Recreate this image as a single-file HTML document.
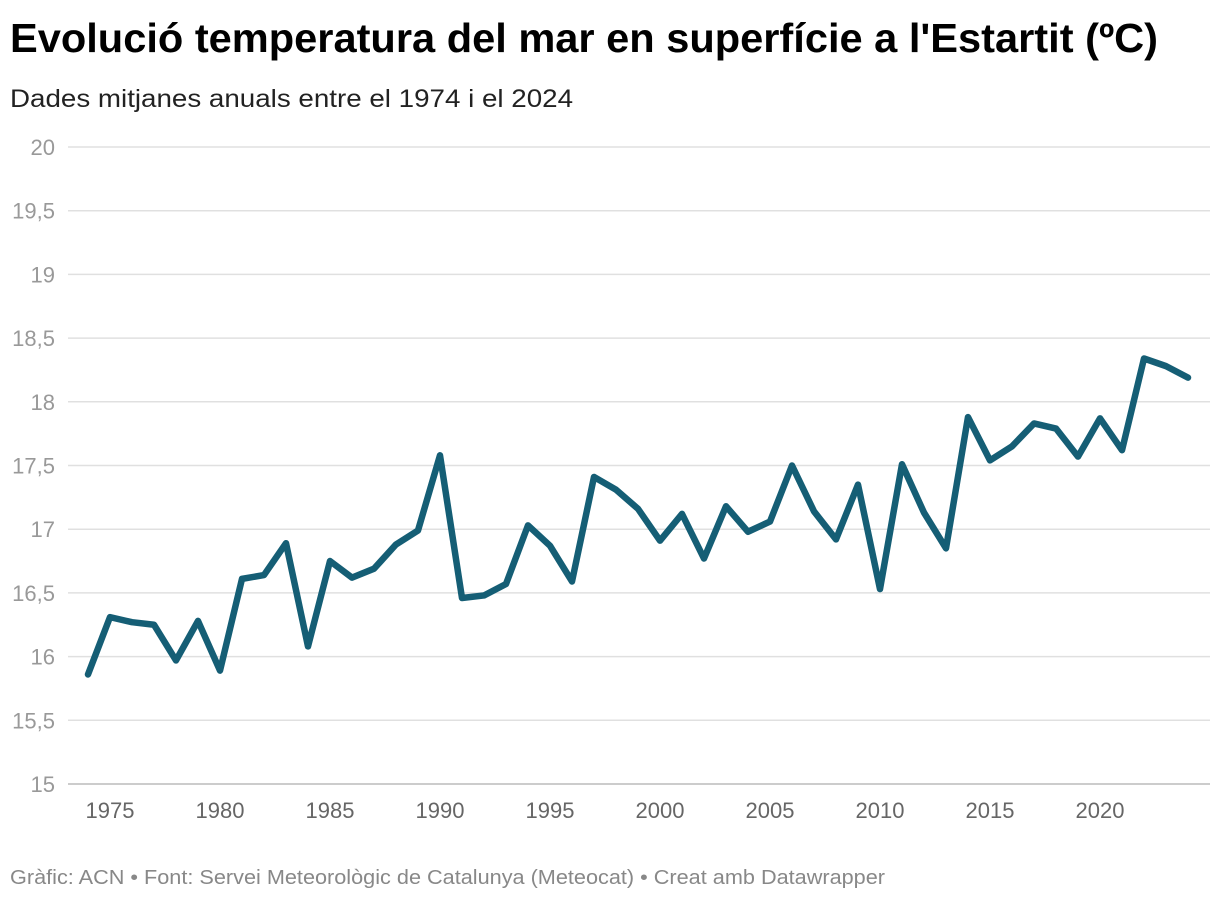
<!DOCTYPE html>
<html><head><meta charset="utf-8"><style>
body{margin:0;background:#fff;font-family:"Liberation Sans",sans-serif;}
svg{display:block}
</style></head><body>
<svg width="1220" height="900" id="c">
<text x="10" y="52" font-size="41" font-weight="bold" fill="#000" textLength="1148" lengthAdjust="spacingAndGlyphs">Evolució temperatura del mar en superfície a l'Estartit (ºC)</text>
<text x="10" y="107" font-size="25" fill="#222" textLength="563" lengthAdjust="spacingAndGlyphs">Dades mitjanes anuals entre el 1974 i el 2024</text>
<text x="10" y="884" font-size="20" fill="#888" textLength="875" lengthAdjust="spacingAndGlyphs">Gràfic: ACN • Font: Servei Meteorològic de Catalunya (Meteocat) • Creat amb Datawrapper</text>
<g id="grid"></g><g id="xt"></g><g id="line"></g>
</svg>
<script>
const years=[1974,1975,1976,1977,1978,1979,1980,1981,1982,1983,1984,1985,1986,1987,1988,1989,1990,1991,1992,1993,1994,1995,1996,1997,1998,1999,2000,2001,2002,2003,2004,2005,2006,2007,2008,2009,2010,2011,2012,2013,2014,2015,2016,2017,2018,2019,2020,2021,2022,2023,2024];
const temps=[15.86,16.31,16.27,16.25,15.97,16.28,15.89,16.61,16.64,16.89,16.08,16.75,16.62,16.69,16.88,16.99,17.58,16.46,16.48,16.57,17.03,16.87,16.59,17.41,17.31,17.16,16.91,17.12,16.77,17.18,16.98,17.06,17.50,17.14,16.92,17.35,16.53,17.51,17.13,16.85,17.88,17.54,17.65,17.83,17.79,17.57,17.87,17.62,18.34,18.28,18.19];
const yTicks=[15,15.5,16,16.5,17,17.5,18,18.5,19,19.5,20];
const xTicks=[1975,1980,1985,1990,1995,2000,2005,2010,2015,2020];
const NS="http://www.w3.org/2000/svg";
const y=v=>784-(v-15)*127.4;
const x=yr=>88+(yr-1974)*22;
const fmt=v=>String(v).replace('.',',');
const g=document.getElementById('grid');
yTicks.forEach(t=>{
 const l=document.createElementNS(NS,'line');
 l.setAttribute('x1',68);l.setAttribute('x2',1210);l.setAttribute('y1',y(t));l.setAttribute('y2',y(t));
 l.setAttribute('stroke',t===15?'#bbb':'#e0e0e0');l.setAttribute('stroke-width',1.5);
 
 
 g.appendChild(l);
 const tx=document.createElementNS(NS,'text');
 tx.setAttribute('x',55);tx.setAttribute('y',y(t)+8);tx.setAttribute('text-anchor','end');
 tx.setAttribute('font-size',22);tx.setAttribute('fill','#999');tx.textContent=fmt(t);
 
 
 g.appendChild(tx);
});
const xg=document.getElementById('xt');
xTicks.forEach(t=>{
 const tx=document.createElementNS(NS,'text');
 tx.setAttribute('x',x(t));tx.setAttribute('y',818);tx.setAttribute('text-anchor','middle');
 tx.setAttribute('font-size',22);tx.setAttribute('fill','#666');tx.textContent=t;
 
 
 xg.appendChild(tx);
});
const p=document.createElementNS(NS,'polyline');
p.setAttribute('points',years.map((yr,i)=>x(yr)+','+y(temps[i])).join(' '));
p.setAttribute('fill','none');p.setAttribute('stroke','#155e75');p.setAttribute('stroke-width',6.5);
p.setAttribute('stroke-linejoin','round');p.setAttribute('stroke-linecap','round');


document.getElementById('line').appendChild(p);
</script>
</body></html>
